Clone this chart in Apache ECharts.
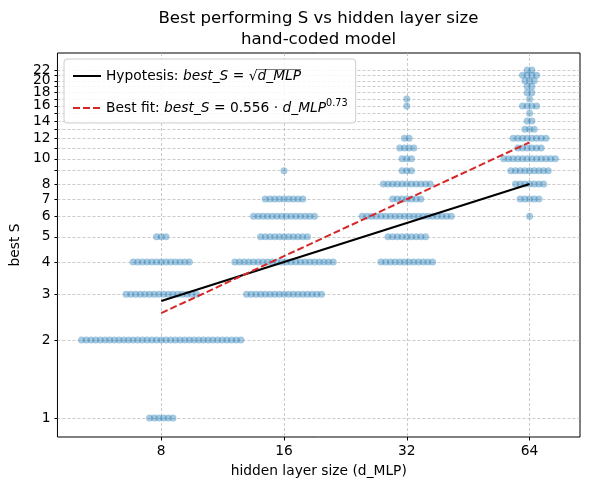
<!DOCTYPE html>
<html>
<head>
<meta charset="utf-8">
<script src="https://cdn.jsdelivr.net/npm/echarts@6/dist/echarts.min.js"></script>
<style>
  html, body { margin: 0; padding: 0; background: #fff; }
  #chart-container { width: 590px; height: 489px; }
</style>
</head>
<body>
<div id="chart-container"></div>
<script>
// hidden layer sizes
var sizes = [8, 16, 32, 64];

// best S values seen for each size, and how many runs gave each
var sValues8 = [1, 2, 3, 4, 5];
var counts8 = [6, 35, 16, 13, 3];
var sValues16 = [3, 4, 5, 6, 7, 9];
var counts16 = [17, 22, 11, 14, 9, 1];
var sValues32 = [4, 5, 6, 7, 8, 9, 10, 11, 12, 16, 17];
var counts32 = [12, 9, 20, 7, 11, 3, 3, 4, 2, 1, 1];
var sValues64 = [6, 7, 8, 9, 10, 11, 12, 13, 14, 15, 16, 17, 18, 19, 20, 21, 22];
var counts64 = [1, 5, 7, 9, 12, 6, 8, 3, 2, 1, 4, 1, 2, 2, 3, 4, 2];

// reference lines (end points)
var hypothesis = [[8, 2.83], [64, 8]];
var bestFit = [[8, 2.54], [64, 11.58]];

// tick labels
var xTicks = [8, 16, 32, 64];
var yTicks = [1, 2, 3, 4, 5, 6, 7, 8, 9, 10, 11, 12, 13, 14, 15, 16, 17, 18, 19, 20, 21, 22];
var yLabels = [1, 2, 3, 4, 5, 6, 7, 8, 10, 12, 14, 16, 18, 22];
var yLabelsExtra = [20]; // sits too close to 22, echarts would drop it

var sValues = [sValues8, sValues16, sValues32, sValues64];
var counts = [counts8, counts16, counts32, counts64];

// spread the runs sideways like a swarm (step in log2 units)
var step = 0.0382;
var points = [];
sizes.forEach(function (size, g) {
  sValues[g].forEach(function (s, k) {
    var n = counts[g][k];
    for (var i = 0; i < n; i++) {
      points.push([size * Math.pow(2, (i - (n - 1) / 2) * step), s]);
    }
  });
});

// little image used as the bar over the square root
var bar = document.createElement("canvas");
bar.width = 10;
bar.height = 20;
var ctx = bar.getContext("2d");
ctx.fillStyle = "#000";
ctx.fillRect(0, 0, 10, 1.4);

var dom = document.getElementById("chart-container");
var myChart = echarts.init(dom, null, { renderer: "canvas" });

var font = "DejaVu Sans";
var fs = 13.8;
var yMin = 0.845;
var yMax = 25.6;
var option = {
  backgroundColor: "#fff",
  animation: false,
  textStyle: { fontFamily: font },
  graphic: [
    {
      type: "text",
      x: 318.5,
      y: 8,
      style: {
        text: "Best performing S vs hidden layer size\nhand-coded model",
        align: "center",
        fontFamily: font,
        fontSize: 16.6,
        lineHeight: 21,
        fill: "#000"
      }
    }
  ],
  grid: {
    left: 57,
    right: 10,
    top: 53,
    bottom: 52,
    show: true,
    borderColor: "#000",
    borderWidth: 1,
    backgroundColor: "transparent"
  },
  legend: {
    orient: "vertical",
    left: 64,
    top: 59,
    padding: [7, 8, 5, 8],
    itemWidth: 28,
    itemHeight: 12,
    itemGap: 12,
    borderColor: "#cccccc",
    borderWidth: 1,
    borderRadius: 3,
    backgroundColor: "rgba(255,255,255,0.85)",
    itemStyle: { opacity: 0 },
    data: ["Hypotesis", "Best fit"],
    textStyle: {
      fontFamily: font,
      fontSize: fs,
      color: "#000",
      lineHeight: 20,
      rich: {
        m: { fontFamily: font, fontStyle: "italic", fontSize: fs, color: "#000" },
        ov: {
          fontFamily: font, fontStyle: "italic", fontSize: fs, color: "#000",
          lineHeight: 16, padding: [1, 0, 0, 0],
          backgroundColor: { image: bar }
        },
        sup: { fontFamily: font, fontSize: 9.7, color: "#000", verticalAlign: "top", lineHeight: 12 }
      }
    },
    formatter: function (name) {
      if (name === "Hypotesis") {
        return "Hypotesis: {m|best_S} = \u221A{ov|d_MLP}";
      }
      return "Best fit: {m|best_S} = 0.556 \u00B7 {m|d_MLP}{sup|0.73}";
    }
  },
  xAxis: {
    type: "log",
    logBase: 2,
    min: 4.452,
    max: 85.1,
    name: "hidden layer size (d_MLP)",
    nameLocation: "middle",
    nameGap: 27,
    nameTextStyle: { fontFamily: font, fontSize: fs, color: "#000" },
    axisLine: { show: false },
    axisTick: { show: true, length: 3.5, customValues: xTicks, lineStyle: { color: "#000" } },
    axisLabel: {
      customValues: xTicks, interval: 0, showMinLabel: true, showMaxLabel: true,
      margin: 7, fontFamily: font, fontSize: fs, color: "#000"
    },
    splitLine: { show: true, lineStyle: { color: "#b5b5b5", width: 0.7, type: [3, 2] } }
  },
  yAxis: [
    {
      type: "log",
      logBase: 2,
      min: yMin,
      max: yMax,
      name: "best S",
      nameLocation: "middle",
      nameGap: 33,
      nameTextStyle: { fontFamily: font, fontSize: fs, color: "#000" },
      axisLine: { show: false },
      axisTick: { show: true, length: 3, customValues: yTicks, lineStyle: { color: "#000" } },
      axisLabel: {
        customValues: yLabels, interval: 0, showMinLabel: true, showMaxLabel: true,
        margin: 7, fontFamily: font, fontSize: fs, color: "#000"
      },
      splitLine: { show: true, lineStyle: { color: "#b5b5b5", width: 0.7, type: [3, 2] } }
    },
    {
      type: "log",
      logBase: 2,
      min: yMin,
      max: yMax,
      position: "left",
      offset: 0,
      axisLine: { show: false },
      axisTick: { show: false, customValues: yLabelsExtra },
      axisLabel: {
        customValues: yLabelsExtra, showMinLabel: true, showMaxLabel: true,
        margin: 7, fontFamily: font, fontSize: fs, color: "#000"
      },
      splitLine: { show: false }
    }
  ],
  series: [
    {
      type: "scatter",
      name: "runs",
      data: points,
      symbolSize: 7,
      itemStyle: { color: "rgba(31,119,180,0.5)" },
      z: 2
    },
    {
      type: "line",
      name: "Hypotesis",
      data: hypothesis,
      symbol: "none",
      lineStyle: { color: "#000", width: 2 },
      itemStyle: { color: "#000" },
      z: 3
    },
    {
      type: "line",
      name: "Best fit",
      data: bestFit,
      symbol: "none",
      lineStyle: { color: "#d62728", width: 2, type: [7, 3] },
      itemStyle: { color: "#d62728" },
      z: 4
    }
  ]
};

if (option && typeof option === "object") {
  myChart.setOption(option);
}

window.addEventListener("resize", myChart.resize);
</script>
</body>
</html>
